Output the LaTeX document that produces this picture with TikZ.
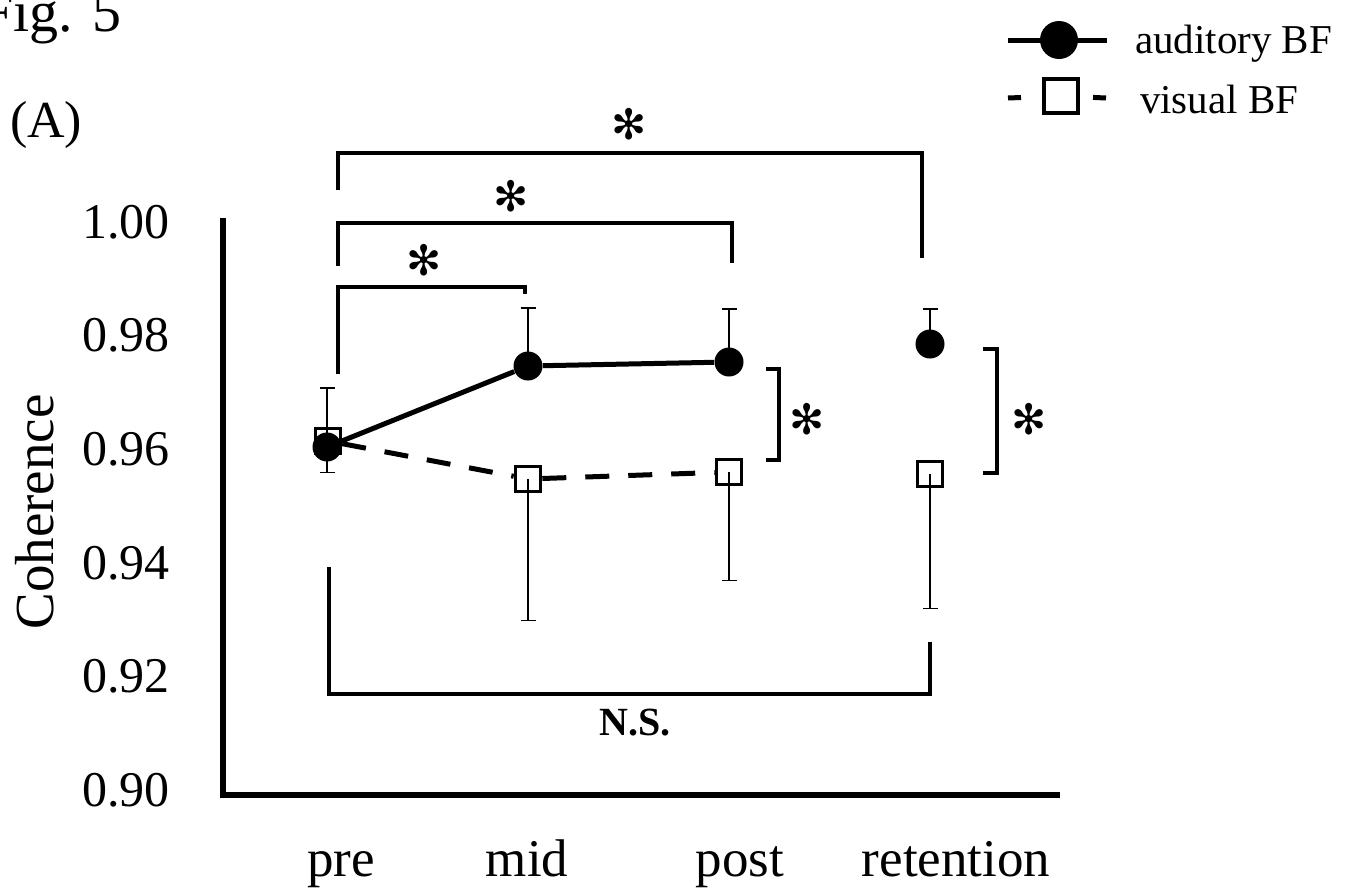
\documentclass[tikz,border=0pt]{standalone}
\usepackage{fontspec}
\setmainfont{Liberation Serif}
\newfontfamily\starfont{DejaVu Sans}
\usepackage{tikz}
\usetikzlibrary{arrows.meta}

\begin{document}
\begin{tikzpicture}[x=0.5pt,y=-0.5pt,
  axis/.style={line width=3.2pt},
  bracket/.style={line width=2pt},
  errbar/.style={line width=0.75pt,-{Bar[width=7.5pt,line width=0.75pt]}},
  audmark/.style={circle,fill=black,inner sep=0pt,minimum size=14.5pt},
  vismark/.style={rectangle,draw=black,line width=1.5pt,inner sep=0pt,minimum size=12.8pt},
  audline/.style={line width=2.5pt},
  visline/.style={line width=2.5pt,dash pattern=on 12pt off 9.5pt},
  legdash/.style={line width=2.5pt,dash pattern=on 6.5pt off 40pt},
  ticklab/.style={anchor=east,font=\fontsize{25}{30}\selectfont},
  catlab/.style={anchor=base,font=\fontsize{26.5}{32}\selectfont},
  star/.style={font=\starfont\fontsize{21}{24}\selectfont},
  legtext/.style={anchor=base west,font=\fontsize{20.5}{24}\selectfont}]
\useasboundingbox (0,0) rectangle (1349,894);

\node[anchor=base west,font=\fontsize{29}{34}\selectfont] (fig) at (-26,32) {Fig. 5};
\node[anchor=base west,font=\fontsize{26}{31}\selectfont] (panel) at (3,137) {(A)};

% axes
\coordinate (ytop) at (223,218);
\coordinate (orig) at (223,795);
\coordinate (xend) at (1060,795);
\draw[axis] (ytop) -- (orig) -- (xend);
\foreach \v [count=\k from 0] in {1.00,0.98,0.96,0.94,0.92,0.90}
  \node[ticklab] (t\k) at (177,222+113.6*\k) {\v};
\node[rotate=90,anchor=base,font=\fontsize{27.5}{33}\selectfont] (ylab) at (53,512) {Coherence};
\foreach \x/\t [count=\k] in {341/pre,527/mid,740/post,956/retention}
  \node[catlab] (c\k) at (\x,876) {\t};

% data points and error bars
\coordinate (p1) at (327,444);
\coordinate (e1t) at (327,387);
\coordinate (e1b) at (327,473);
\draw[errbar] (p1) -- (e1t);
\draw[errbar] (p1) -- (e1b);
\foreach \x/\ya/\yv/\yt/\yb [count=\k from 2] in {528/366/479/307/621, 729/362/472/308/581, 930/344/474/308/609}
{
  \coordinate (e\k t) at (\x,\yt);
  \coordinate (e\k b) at (\x,\yb);
  \draw[errbar] (\x,\ya) -- (e\k t);
  \draw[errbar] (\x,\yv) -- (e\k b);
}
\node[vismark] (v1) at (328,441) {};
\node[vismark] (v2) at (528,479) {};
\node[vismark] (v3) at (729,472) {};
\node[vismark] (v4) at (930,474) {};
\node[audmark] (a1) at (327,447) {};
\node[audmark] (a2) at (528,366) {};
\node[audmark] (a3) at (729,362) {};
\node[audmark] (a4) at (930,344) {};
\draw[audline] (a1) -- (a2) -- (a3);
\draw[visline] (v1) -- (v2) -- (v3);

% significance
\draw[bracket] (338,190) -- ++(0,-37) -| (922,258);
\draw[bracket] (338,266) -- ++(0,-43) -| (732,263);
\draw[bracket] (338,374) -- ++(0,-87) -| (525,294);
\draw[bracket] (766,369) -- ++(13,0) |- (766,460);
\draw[bracket] (983,349) -- ++(14,0) |- (983,473);
\draw[bracket] (329,567) -- ++(0,127) -| (930,642);
\node[star] (s1) at (629,124) {✻};
\node[star] (s2) at (511,196) {✻};
\node[star] (s3) at (424,260) {✻};
\node[star] (s4) at (807,419) {✻};
\node[star] (s5) at (1029,419) {✻};
\node[font=\bfseries\fontsize{20}{24}\selectfont] (ns) at (635,723) {N.S.};

% legend
\coordinate (lgA) at (1008,40);
\coordinate (lgB) at (1107,40);
\draw[audline] (lgA) -- (lgB);
\node[audmark,minimum size=19pt] (lgAm) at (1059,40) {};
\node[legtext] (lgAt) at (1128,53) {auditory BF};
\coordinate (lgC) at (1008,98);
\coordinate (lgD) at (1106,98);
\node[vismark,minimum size=17pt,line width=1.75pt] (lgVm) at (1061,96) {};
\draw[legdash] (lgC) -- (lgVm);
\draw[legdash] (lgD) -- (lgVm);
\node[legtext] (lgVt) at (1133,113) {visual BF};
\end{tikzpicture}
\end{document}
